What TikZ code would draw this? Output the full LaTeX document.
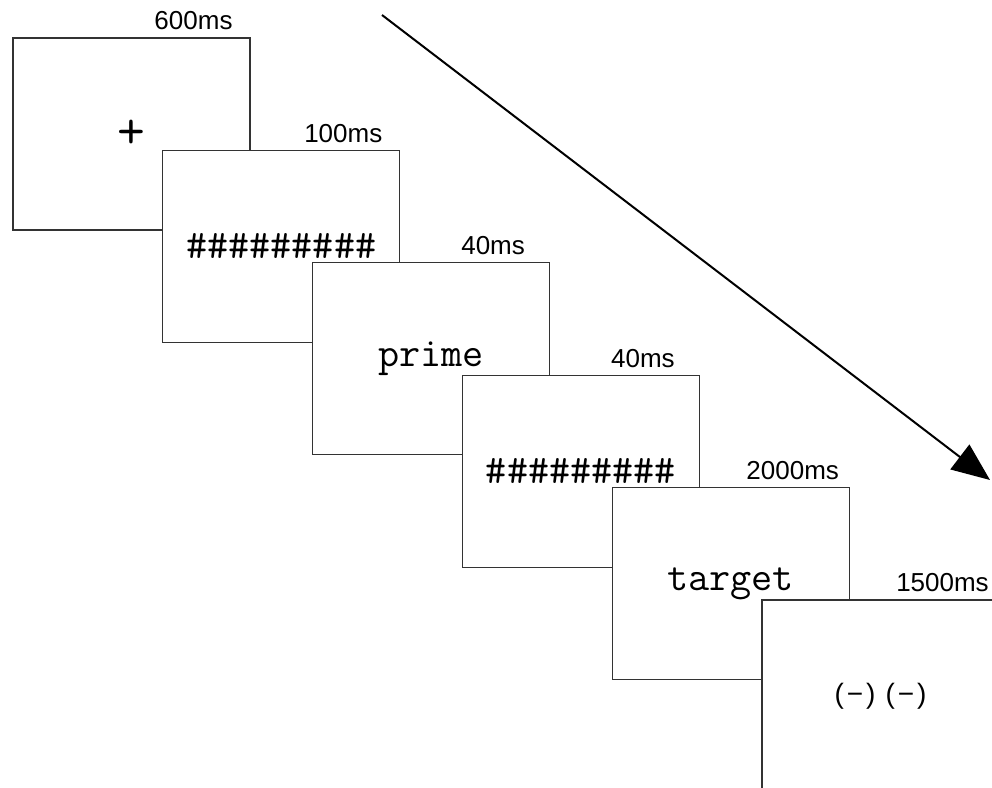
\documentclass[tikz,border=0pt]{standalone}
\usepackage{fontspec}
\setmainfont{Liberation Sans}
\usetikzlibrary{arrows.meta}

\tikzset{
  screen/.style={draw=black!80, fill=white, line width=1.2pt, minimum width=237pt, minimum height=192pt, inner sep=0pt},
  stim/.style={font=\ttfamily\fontsize{41}{45}\selectfont},
  resp/.style={font=\fontsize{28}{33}\selectfont},
  dur/.style={font=\fontsize{26}{30}\selectfont, xshift=62pt, yshift=7pt, inner sep=0pt},
  timeline/.style={line width=2pt, -{Triangle[length=38pt,width=31pt]}}
}

\begin{document}
\begin{tikzpicture}[x=1pt, y=-1pt]
    \useasboundingbox (0,0) rectangle (992,787);
    \fill[white] (0,0) rectangle (992,787);

    \coordinate (tstart) at (382,15);
    \coordinate (tend) at (990,480);
    \draw [timeline] (tstart) -- (tend);

    \node [screen, stim, font=\ttfamily\fontsize{54}{58}\selectfont, label={[dur]above:600ms}] (fixation) at (131.5,134) {+};
    \node [screen, stim, label={[dur]above:100ms}] (mask1) at (281.3,246.4) {\#\#\#\#\#\#\#\#\#};
    \node [screen, stim, label={[dur]above:40ms}] (prime) at (431.1,358.8) {prime};
    \node [screen, stim, label={[dur]above:40ms}] (mask2) at (580.9,471.2) {\#\#\#\#\#\#\#\#\#};
    \node [screen, stim, label={[dur]above:2000ms}] (target) at (730.7,583.6) {target};
    \node [screen, resp, label={[dur]above:1500ms}] (response) at (880.5,696) {(\kern3pt−\kern3pt)\hspace{10pt}(\kern3pt−\kern3pt)};
\end{tikzpicture}
\end{document}
